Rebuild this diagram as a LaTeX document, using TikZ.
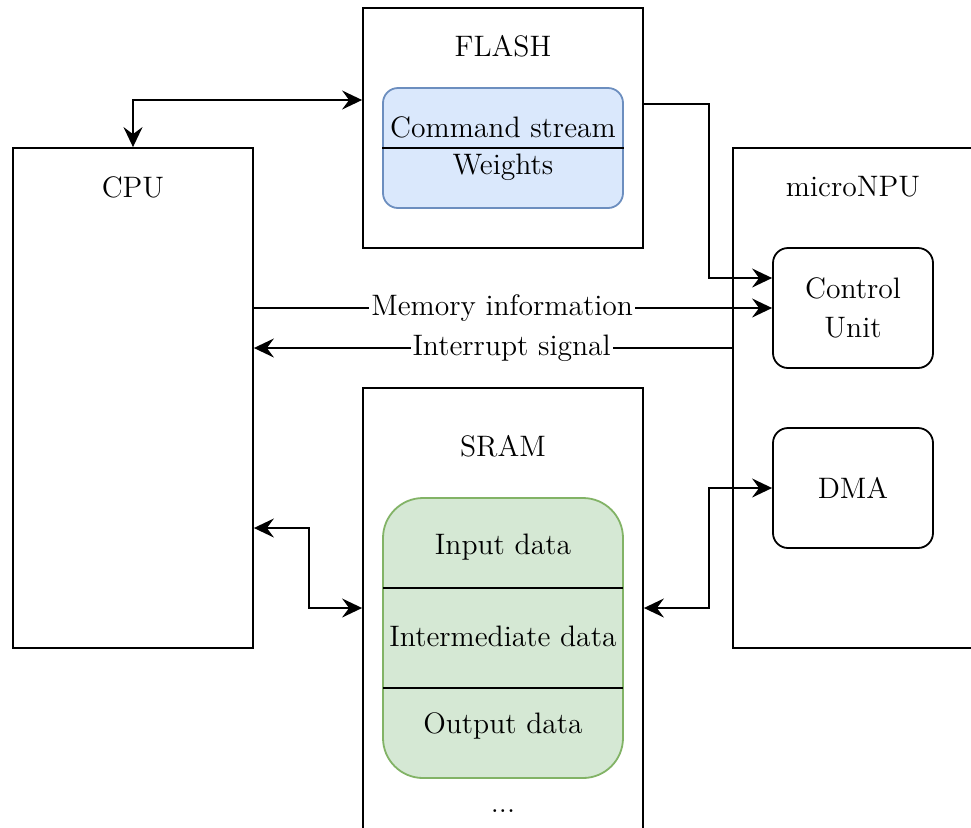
\documentclass[tikz,border=0pt]{standalone}
\usetikzlibrary{arrows.meta}
\definecolor{flashfill}{HTML}{DAE8FC}
\definecolor{flashline}{HTML}{6C8EBF}
\definecolor{sramfill}{HTML}{D5E8D4}
\definecolor{sramline}{HTML}{82B366}
\tikzset{
  block/.style={draw=black, line width=0.9pt, fill=white, inner sep=0pt},
  unitbox/.style={block, rounded corners=7.5pt, minimum width=80pt, minimum height=60pt, align=center},
  link/.style={line width=0.9pt, -{Stealth[length=10pt,width=9.5pt,inset=3.5pt]}},
  dlink/.style={line width=0.9pt, {Stealth[length=10pt,width=9.5pt,inset=3.5pt]}-{Stealth[length=10pt,width=9.5pt,inset=3.5pt]}},
  tag/.style={fill=white, inner sep=1pt},
  txt/.style={inner sep=0pt},
}
\begin{document}
\begin{tikzpicture}[x=0.5pt, y=-0.5pt, font=\fontsize{14.8}{19.5}\selectfont]
\useasboundingbox (0,0) rectangle (971,827);
\begin{scope}
\clip (0,0) rectangle (971,827);

% main blocks
\node[block, minimum width=120pt, minimum height=250pt] (cpu) at (133,398) {};
\node[txt] (cpulabel) at (133,187) {CPU};

\node[block, minimum width=140pt, minimum height=120pt] (flash) at (503,128) {};
\node[txt] (flashlabel) at (503,46) {FLASH};

\node[block, minimum width=120pt, minimum height=250pt] (npu) at (853,398) {};
\node[txt] (npulabel) at (853,187) {microNPU};

\node[block, minimum width=140pt, minimum height=240pt] (sram) at (503,628) {};
\node[txt] (sramlabel) at (503,446) {SRAM};

% FLASH contents
\node[draw=flashline, fill=flashfill, line width=0.9pt, rounded corners=7.5pt,
      minimum width=120pt, minimum height=60pt, inner sep=0pt] (flashmem) at (503,148) {};
\draw[line width=0.8pt] (flashmem.west) -- (flashmem.east);
\node[txt] (cmd) at (503,127) {Command stream};
\node[txt] (weights) at (503,167) {Weights};

% SRAM contents
\node[draw=sramline, fill=sramfill, line width=0.9pt, rounded corners=20pt,
      minimum width=120pt, minimum height=140pt, inner sep=0pt] (srammem) at (503,638) {};
\draw[line width=0.8pt] (383,588) -- (623,588);
\draw[line width=0.8pt] (383,688) -- (623,688);
\node[txt] (indata) at (503,547) {Input data};
\node[txt] (middata) at (503,636) {Intermediate data};
\node[txt] (outdata) at (503,726) {Output data};
\node[txt] (more) at (503,811) {...};

% microNPU units
\node[unitbox] (cu) at (853,308) {Control\\Unit};
\node[unitbox] (dma) at (853,488) {DMA};

% connectors
\draw[dlink] (cpu.north) |- ([yshift=14pt]flash.west);
\draw[link] ([yshift=12pt]flash.east) -- ++(32.5pt,0) |- ([yshift=15pt]cu.west);
\draw[link] (cpu.east |- cu.west) -- node[tag, pos=0.479] {Memory information} (cu.west);
\draw[link] ([yshift=25pt]npu.west) -- node[tag, pos=0.461] {Interrupt signal} ([yshift=25pt]npu.west -| cpu.east);
\draw[dlink] ([yshift=-65pt]cpu.east) -- ++(27.5pt,0) |- ([yshift=10pt]sram.west);
\draw[dlink] ([yshift=10pt]sram.east) -- ++(32.5pt,0) |- (dma.west);
\end{scope}
\end{tikzpicture}
\end{document}
